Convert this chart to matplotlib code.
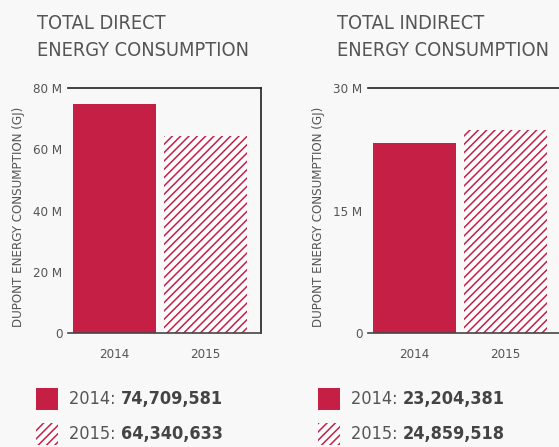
import matplotlib
matplotlib.use("Agg")
import matplotlib.pyplot as plt
from matplotlib import font_manager
from matplotlib.patches import Rectangle

years = ["2014", "2015"]
direct = [74709581, 64340633]
indirect = [23204381, 24859518]
direct_ticks = [0, 20e6, 40e6, 60e6, 80e6]
direct_labels = ["0", "20 M", "40 M", "60 M", "80 M"]
indirect_ticks = [0, 15e6, 30e6]
indirect_labels = ["0", "15 M", "30 M"]
titles = ["TOTAL DIRECT\nENERGY CONSUMPTION", "TOTAL INDIRECT\nENERGY CONSUMPTION"]

RED = "#c61f46"
GRAY = "#555555"

# narrow font if there is one, else condensed DejaVu
try:
    font_manager.findfont("Liberation Sans Narrow", fallback_to_default=False)
    FAM, STRETCH = "Liberation Sans Narrow", "normal"
except Exception:
    FAM, STRETCH = "DejaVu Sans", "condensed"
plt.rcParams["font.family"] = FAM
plt.rcParams["font.stretch"] = STRETCH
plt.rcParams["hatch.linewidth"] = 1.1

W, H = 559, 447
fig = plt.figure(figsize=(W / 100, H / 100), dpi=100, facecolor="#f8f8f8")


def px(x, y, w, h):
    return [x / W, 1 - (y + h) / H, w / W, h / H]


def panel(x0, vals, ticks, labels, title, right_spine):
    ax = fig.add_axes(px(x0, 88, 193, 245))
    ax.patch.set_alpha(0)
    ax.bar([0], [vals[0]], width=0.92, color=RED, linewidth=0)
    ax.bar([1], [vals[1]], width=0.92, facecolor="white", edgecolor=RED,
           hatch="////", linewidth=0)
    ax.set_xlim(-0.516, 1.616)
    ax.set_ylim(0, ticks[-1])
    ax.set_yticks(ticks)
    ax.set_yticklabels(labels)
    ax.set_xticks([0, 1])
    ax.set_xticklabels(years)
    ax.tick_params(length=0, colors=GRAY, labelsize=9.5)
    ax.tick_params(axis="x", pad=11)
    ax.tick_params(axis="y", pad=4)
    ax.spines["left"].set_visible(False)
    ax.spines["right"].set_visible(right_spine)
    for s in ["top", "right", "bottom"]:
        ax.spines[s].set_color("#222222")
        ax.spines[s].set_linewidth(1.2)
    ax.spines["bottom"].set_color("#444444")
    ax.set_ylabel("DUPONT ENERGY CONSUMPTION (GJ)", color=GRAY, fontsize=9.5)
    ax.yaxis.set_label_coords(-43 / 193, 0.475)
    fig.text((x0 - 31) / W, 1 - 14 / H, title, color=GRAY, fontsize=14.3,
             va="top", ha="left", linespacing=1.5)
    return ax


panel(68, direct, direct_ticks, direct_labels, titles[0], True)
panel(368, indirect, indirect_ticks, indirect_labels, titles[1], False)

# legends
renderer = fig.canvas.get_renderer()
for x0, vals in [(36, direct), (318, indirect)]:
    for i, (yr, v) in enumerate(zip(years, vals)):
        ytop = 388 + i * 35
        if i == 0:
            r = Rectangle((x0 / W, 1 - (ytop + 22) / H), 22 / W, 22 / H,
                          transform=fig.transFigure, facecolor=RED, linewidth=0)
        else:
            r = Rectangle((x0 / W, 1 - (ytop + 22) / H), 22 / W, 22 / H,
                          transform=fig.transFigure, facecolor="white",
                          edgecolor=RED, hatch="////", linewidth=0)
        fig.add_artist(r)
        yc = 1 - (ytop + 11) / H
        t = fig.text((x0 + 33) / W, yc, yr + ": ", color=GRAY, fontsize=13,
                     va="center", ha="left")
        bb = t.get_window_extent(renderer)
        fig.text(bb.x1 / W, yc, f"{v:,}", color="#444444", fontsize=13,
                 fontweight="bold", va="center", ha="left")

fig.savefig("out.png", dpi=100, facecolor=fig.get_facecolor())
